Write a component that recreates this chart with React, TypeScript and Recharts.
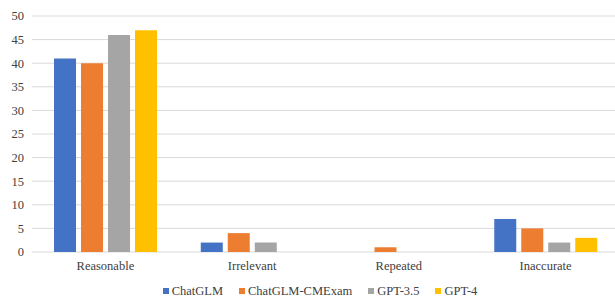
import { BarChart, Bar, XAxis, YAxis, CartesianGrid, Legend } from 'recharts';

const categories = ['Reasonable', 'Irrelevant', 'Repeated', 'Inaccurate'];
const chatglm = [41, 2, 0, 7];
const chatglmCmexam = [40, 4, 1, 5];
const gpt35 = [46, 2, 0, 2];
const gpt4 = [47, 0, 0, 3];
const yTicks = [0, 5, 10, 15, 20, 25, 30, 35, 40, 45, 50];

const series = [
  { key: 'ChatGLM', color: '#4472C4' },
  { key: 'ChatGLM-CMExam', color: '#ED7D31' },
  { key: 'GPT-3.5', color: '#A5A5A5' },
  { key: 'GPT-4', color: '#FFC000' },
];

const data = categories.map((name, i) => ({
  name,
  ChatGLM: chatglm[i],
  'ChatGLM-CMExam': chatglmCmexam[i],
  'GPT-3.5': gpt35[i],
  'GPT-4': gpt4[i],
}));

const serif = '"Liberation Serif", "Times New Roman", serif';
const font = { fontFamily: serif, fontSize: 12.5, fill: '#404040' };

function LegendBox(props: any) {
  const items = props.payload || [];
  return (
    <div
      style={{
        display: 'flex',
        justifyContent: 'center',
        paddingTop: 6,
        paddingLeft: 37,
        fontFamily: serif,
        fontSize: 12.5,
        color: '#404040',
        lineHeight: '14px',
      }}
    >
      {items.map((it: any) => (
        <div key={it.value} style={{ display: 'flex', alignItems: 'center', marginRight: 16 }}>
          <span style={{ width: 6, height: 6, background: it.color, marginRight: 3, display: 'inline-block' }} />
          <span>{it.value}</span>
        </div>
      ))}
    </div>
  );
}

export default function App() {
  return (
    <div style={{ position: 'absolute', left: 0, top: 0, width: 615, height: 299, overflow: 'hidden', background: '#fff' }}>
      <BarChart
        width={619}
        height={299}
        data={data}
        margin={{ top: 16, right: 0, bottom: 0, left: 0 }}
        barCategoryGap="15%"
        barGap={5}
      >
        <CartesianGrid vertical={false} stroke="#d9d9d9" />
        <XAxis dataKey="name" axisLine={false} tickLine={false} tick={font} height={26} tickMargin={3} />
        <YAxis domain={[0, 50]} ticks={yTicks} axisLine={false} tickLine={false} tick={font} width={32} />
        <Legend verticalAlign="bottom" height={21} content={LegendBox} />
        {series.map((s) => (
          <Bar key={s.key} dataKey={s.key} fill={s.color} isAnimationActive={false} />
        ))}
      </BarChart>
    </div>
  );
}
